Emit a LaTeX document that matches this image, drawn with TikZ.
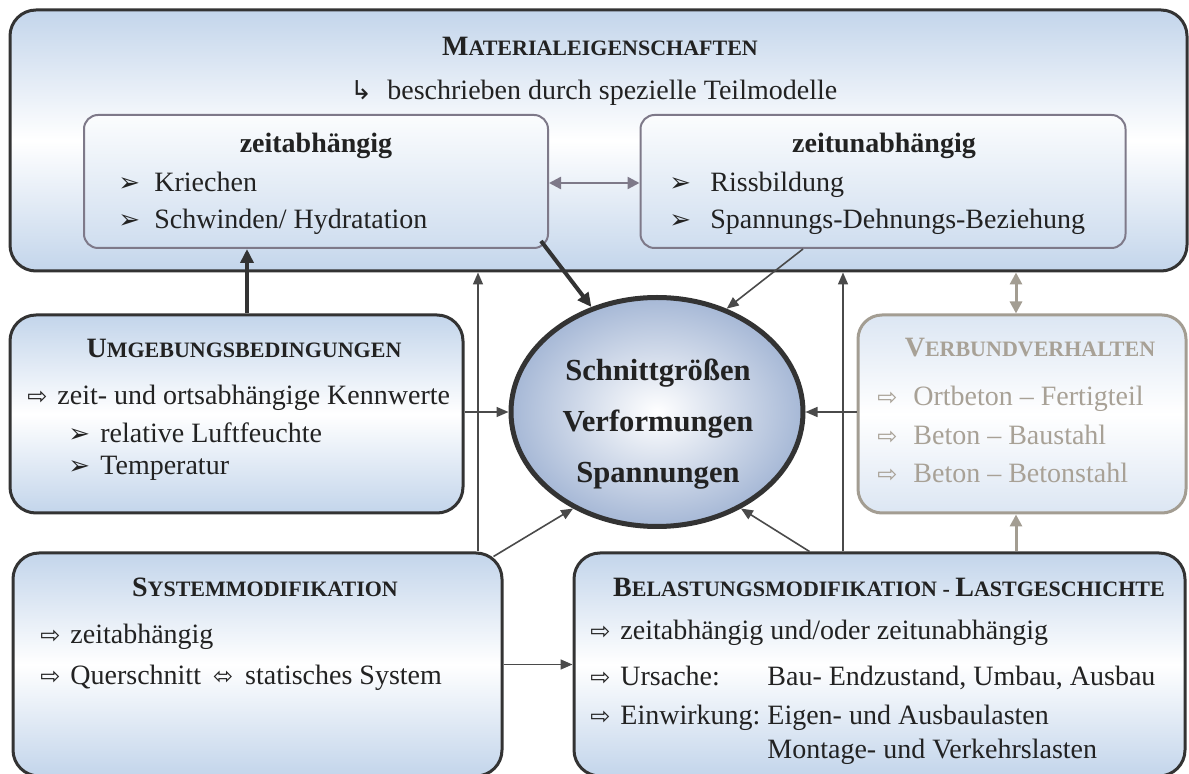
\documentclass[tikz,border=0pt]{standalone}
\usepackage{fontspec}
\setmainfont{Liberation Serif}
\newfontfamily\symbolfont{DejaVu Sans}
\usetikzlibrary{shapes.geometric,arrows.meta}

\definecolor{boxblau}{HTML}{C3D5EB}
\definecolor{rahmen}{HTML}{333333}
\definecolor{innenrahmen}{HTML}{7E7989}
\definecolor{pfeilgrau}{HTML}{4A4A4A}
\definecolor{verbgrau}{HTML}{A39D92}
\definecolor{verbtext}{HTML}{A8A196}
\definecolor{verbblau}{HTML}{DCE6F3}
\definecolor{ellblau}{HTML}{A6B8D6}
\definecolor{schrift}{HTML}{222222}

% Kapitaelchen von Hand
\newcommand{\kap}[2]{{\fontsize{14}{16}\selectfont #1}{\fontsize{11}{13}\selectfont #2}}
\newcommand{\pf}[1][15pt]{\makebox[#1][l]{\symbolfont\fontsize{12}{12}\selectfont ⇨}}
\newcommand{\pkt}[1][18pt]{\makebox[#1][l]{\symbolfont\fontsize{13}{12}\selectfont ➢}}

\begin{document}
\begin{tikzpicture}[x=0.5pt, y=-0.5pt]
	\tikzstyle{every node} = [inner sep=0pt, text=schrift, font=\fontsize{14}{17}\selectfont]
	\tikzstyle{hauptbox} = [draw=rahmen, line width=1.5pt, rounded corners=13pt, top color=boxblau, bottom color=boxblau, middle color=white]
	\tikzstyle{teilbox} = [draw=innenrahmen, line width=1pt, rounded corners=7pt, top color=white!94!boxblau, bottom color=boxblau!80]
	\tikzstyle{verbbox} = [draw=verbgrau, line width=1.5pt, rounded corners=12pt, top color=verbblau, bottom color=verbblau, middle color=white]
	\tikzstyle{duennpfeil} = [draw=pfeilgrau, line width=0.8pt, -{Triangle[length=6pt,width=5pt]}]
	\tikzstyle{dickpfeil} = [draw=rahmen, line width=2pt, -{Triangle[length=7pt,width=6.5pt]}]
	\tikzstyle{zeile} = [anchor=base west]
	\useasboundingbox[fill=white] (0,0) rectangle (1189,774);

	% Kaesten
	\node[hauptbox, minimum width=588.5pt, minimum height=130.5pt] (mat) at (598.5,140.5) {};
	\node[teilbox, minimum width=232pt, minimum height=66.5pt] (zA) at (316,181.5) {};
	\node[teilbox, minimum width=242.5pt, minimum height=66.5pt] (zU) at (883,181.5) {};
	\node[hauptbox, minimum width=226.5pt, minimum height=99pt] (umg) at (236.5,414) {};
	\node[verbbox, minimum width=164pt, minimum height=99pt] (verb) at (1022,414) {};
	\node[hauptbox, minimum width=244.5pt, minimum height=111.5pt] (sys) at (257.5,664.5) {};
	\node[hauptbox, minimum width=305.5pt, minimum height=111.5pt] (bel) at (879.5,664.5) {};
	\node[ellipse, draw=rahmen, line width=2.5pt, inner color=white, outer color=ellblau,
		minimum width=146pt, minimum height=114.5pt] (erg) at (657,412) {};

	% Texte
	\node[anchor=base] (matTitel) at (600,56) {\bfseries\kap{M}{ATERIALEIGENSCHAFTEN}};
	\node[zeile] (matText) at (350,100) {\makebox[18.5pt][l]{\symbolfont\fontsize{13}{12}\selectfont ↳}beschrieben durch spezielle Teilmodelle};
	\node[anchor=base] (zATitel) at (316,153) {\bfseries zeitabhängig};
	\node[zeile] (zA1) at (118,192) {\pkt Kriechen};
	\node[zeile] (zA2) at (118,229) {\pkt Schwinden/ Hydratation};
	\node[anchor=base] (zUTitel) at (884,153) {\bfseries zeitunabhängig};
	\node[zeile] (zU1) at (669,192) {\pkt[17pt] Rissbildung};
	\node[zeile] (zU2) at (669,229) {\pkt[17pt] Spannungs-Dehnungs-Beziehung};

	\node[anchor=base] (umgTitel) at (244,358) {\bfseries\kap{U}{MGEBUNGSBEDINGUNGEN}};
	\node[zeile] (umg1) at (27,405) {\pf[15pt]zeit- und ortsabhängige Kennwerte};
	\node[zeile] (umg2) at (68,443) {\pkt[16pt]relative Luftfeuchte};
	\node[zeile] (umg3) at (68,475) {\pkt[16pt]Temperatur};

	\node[anchor=base, text=verbtext] (verbTitel) at (1030,357) {\bfseries\kap{V}{ERBUNDVERHALTEN}};
	\node[zeile, text=verbtext] (verb1) at (877,406) {\pf[18pt]Ortbeton – Fertigteil};
	\node[zeile, text=verbtext] (verb2) at (877,445) {\pf[18pt]Beton – Baustahl};
	\node[zeile, text=verbtext] (verb3) at (877,483) {\pf[18pt]Beton – Betonstahl};

	\node[anchor=base] (sysTitel) at (265,597) {\bfseries\kap{S}{YSTEMMODIFIKATION}};
	\node[zeile] (sys1) at (40,644) {\pf[15pt]zeitabhängig};
	\node[zeile] (sys2) at (40,685) {\pf[15pt]Querschnitt\hspace{6pt}{\symbolfont\fontsize{12}{12}\selectfont ⬄}\hspace{6pt}statisches System};

	\node[anchor=base] (belTitel) at (889,597) {\bfseries\kap{B}{ELASTUNGSMODIFIKATION - }\kap{L}{ASTGESCHICHTE}};
	\node[zeile] (bel1) at (590,640) {\pf zeitabhängig und/oder zeitunabhängig};
	\node[zeile] (bel2) at (590,686) {\pf\makebox[73.5pt][l]{Ursache:}Bau- Endzustand, Umbau, Ausbau};
	\node[zeile] (bel3) at (590,725) {\pf\makebox[73.5pt][l]{Einwirkung:}Eigen- und Ausbaulasten};
	\node[zeile] (bel4) at (767,758) {Montage- und Verkehrslasten};

	\node[align=center, font=\bfseries\fontsize{15.3}{25.5}\selectfont] (ergText) at (658,424) {Schnittgrößen\\Verformungen\\Spannungen};

	% Pfeile
	\draw[draw=innenrahmen, line width=1.2pt, {Triangle[length=6pt,width=6pt]}-{Triangle[length=6pt,width=6pt]}] (zA.east |- 0,183) -- (zU.west |- 0,183);
	\draw[dickpfeil] (umg.north -| 247,0) -- (zA.south -| 247,0);
	\draw[dickpfeil] ([shift={(-4pt,4pt)}]zA.south east) -- (erg.122);
	\draw[duennpfeil] ([xshift=-40pt]zU.south) -- (erg.56);
	\draw[duennpfeil] (sys.north -| 478,0) -- (mat.south -| 478,0);
	\draw[duennpfeil] (bel.north -| 843,0) -- (mat.south -| 843,0);
	\draw[duennpfeil] (umg.east |- erg) -- (erg.west);
	\draw[duennpfeil] (verb.west |- erg) -- (erg.east);
	\draw[duennpfeil] ([shift={(-5pt,-2.5pt)}]sys.north east) -- (erg.229);
	\draw[duennpfeil] ([xshift=-35pt]bel.north) -- (erg.311);
	\draw[duennpfeil] (sys) -- (bel);
	\draw[draw=verbgrau, line width=1.5pt, {Triangle[length=6pt,width=6pt]}-{Triangle[length=6pt,width=6pt]}] (mat.south -| 1016,0) -- (verb.north -| 1016,0);
	\draw[draw=verbgrau, line width=1.5pt, -{Triangle[length=6pt,width=6pt]}] (bel.north -| 1016,0) -- (verb.south -| 1016,0);
\end{tikzpicture}
\end{document}
